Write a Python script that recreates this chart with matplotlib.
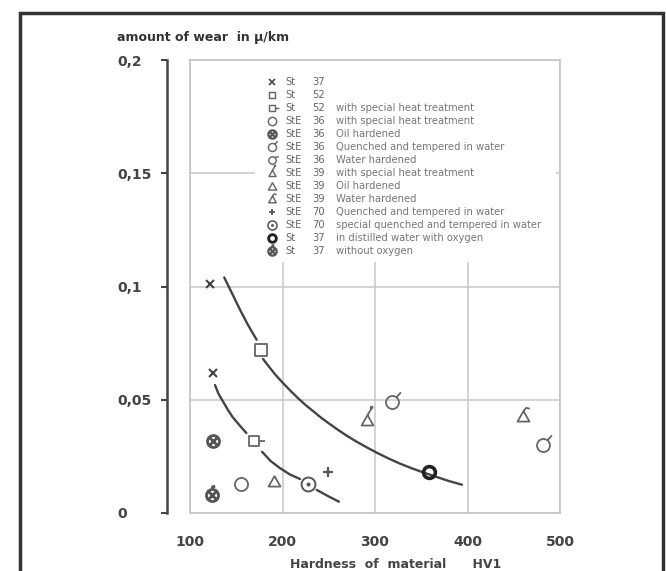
import matplotlib
matplotlib.use("Agg")
import matplotlib.pyplot as plt
from matplotlib.path import Path
from matplotlib.lines import Line2D
from matplotlib.patches import Rectangle

# Data
x_ticks = [100, 200, 300, 400, 500]
y_ticks = [0, 0.05, 0.1, 0.15, 0.2]
y_tick_labels = ["0", "0,05", "0,1", "0,15", "0,2"]

materials = ["St", "St", "St", "StE", "StE", "StE", "StE",
             "StE", "StE", "StE", "StE", "StE", "St", "St"]
grades = ["37", "52", "52", "36", "36", "36", "36",
          "39", "39", "39", "70", "70", "37", "37"]
treatments = ["", "", "with special heat treatment", "with special heat treatment",
              "Oil hardened", "Quenched and tempered in water", "Water hardened",
              "with special heat treatment", "Oil hardened", "Water hardened",
              "Quenched and tempered in water", "special quenched and tempered in water",
              "in distilled water with oxygen", "without oxygen"]

pts_x = [[122, 125], [177], [169], [155], [125], [318, 482], [],
         [291], [191], [460], [249], [228], [358], [124]]
pts_y = [[0.101, 0.062], [0.072], [0.032], [0.013], [0.032], [0.049, 0.030], [],
         [0.041], [0.014], [0.043], [0.018], [0.013], [0.018], [0.008]]

# fitted curves, drawn in pieces (gaps around the markers)
upper_x_a = [137, 146, 154, 163, 172]
upper_y_a = [0.104, 0.0965, 0.0898, 0.0828, 0.0765]
upper_x_b = [179, 185, 192, 200, 208, 216, 224, 233, 242, 251, 260, 270, 280, 291, 303,
             315, 327, 340, 353, 366, 380, 394]
upper_y_b = [0.068, 0.0648, 0.0612, 0.0576, 0.0542, 0.0510, 0.0480, 0.0450, 0.0420,
             0.0393, 0.0367, 0.0340, 0.0315, 0.0290, 0.0264, 0.0240, 0.0218, 0.0197,
             0.0178, 0.0160, 0.0141, 0.0125]
lower_x_a = [127, 131, 136, 141, 146, 154, 161]
lower_y_a = [0.0565, 0.0525, 0.049, 0.0455, 0.0424, 0.0385, 0.0353]
lower_x_b = [178, 187, 197, 208, 219]
lower_y_b = [0.027, 0.023, 0.0199, 0.017, 0.015]
lower_x_c = [237, 249, 261]
lower_y_c = [0.0102, 0.0075, 0.005]

M, L, C = Path.MOVETO, Path.LINETO, Path.CLOSEPOLY


def seg(*pts):
    return Path(list(pts), [M] + [L] * (len(pts) - 1))


def compound(*paths):
    return Path.make_compound_path(*paths)


circ = Path.unit_circle()
small = Path(circ.vertices * 0.15, circ.codes)
sq = Path([(-1, -1), (1, -1), (1, 1), (-1, 1), (-1, -1)], [M, L, L, L, C])
tri = Path([(-1, -0.85), (1, -0.85), (0, 0.9), (-1, -0.85)], [M, L, L, C])
cross_in = compound(seg((-0.7, -0.7), (0.7, 0.7)), seg((-0.7, 0.7), (0.7, -0.7)))

# marker, plot size, legend size, edge width, colour
styles = [
    ("x", 6, 4.5, 1.5, "#444444"),
    (sq, 8, 5, 1.3, "#666666"),
    (compound(sq, seg((1, 0), (2.2, 0))), 15.5, 10, 1.3, "#666666"),
    ("o", 9.4, 6, 1.3, "#666666"),
    (compound(circ, cross_in), 8.6, 6, 2.0, "#555555"),
    (compound(circ, seg((0.6, 0.8), (1.3, 1.55))), 14.5, 9, 1.3, "#666666"),
    (compound(circ, seg((0.75, 0.95), (1.7, 0.95))), 13, 9, 1.3, "#666666"),
    (compound(tri, seg((0, 0.9), (0.7, 2.1)),
              Path(small.vertices + (0.7, 2.2), small.codes)), 20, 12, 1.3, "#666666"),
    (tri, 8.6, 6, 1.3, "#666666"),
    (compound(tri, seg((0, 0.9), (0.45, 1.45), (1.05, 1.3))), 12.5, 8, 1.3, "#666666"),
    ("+", 7, 5, 1.6, "#555555"),
    (compound(circ, small), 10, 6.5, 1.4, "#555555"),
    ("o", 8.5, 5.5, 2.6, "#222222"),
    (compound(circ, cross_in, seg((0, 1.0), (0, 1.45), (0.45, 1.5))), 13, 9, 2.0, "#555555"),
]

fig = plt.figure(figsize=(6.66, 5.71), dpi=100)
ax = fig.add_axes([190 / 666, 1 - 513 / 571, 370 / 666, 453 / 571])

line_kw = dict(color="#444444", lw=1.7, solid_capstyle="round", solid_joinstyle="round",
               zorder=3)
for xs, ys in [(upper_x_a, upper_y_a), (upper_x_b, upper_y_b),
               (lower_x_a, lower_y_a), (lower_x_b, lower_y_b), (lower_x_c, lower_y_c)]:
    ax.plot(xs, ys, **line_kw)

handles = []
for (mk, ms, lms, mew, col), xs, ys in zip(styles, pts_x, pts_y):
    ax.plot(xs, ys, linestyle="none", marker=mk, ms=ms, mfc="none", mec=col, mew=mew, zorder=4)
    handles.append(Line2D([], [], linestyle="none", marker=mk, ms=lms, mfc="none",
                          mec=col, mew=mew * 0.8))

ax.set_xlim(100, 500)
ax.set_ylim(0, 0.2)
ax.set_xticks(x_ticks)
ax.set_yticks(y_ticks)
ax.set_axisbelow(True)
ax.grid(True, color="#cccccc", lw=1.2)
for sp in ax.spines.values():
    sp.set_color("#c4c4c4")
    sp.set_linewidth(1.2)
ax.tick_params(axis="y", length=0, labelleft=False)
ax.tick_params(axis="x", length=0, pad=16, labelsize=10, labelcolor="#444444")
for lab in ax.get_xticklabels():
    lab.set_fontweight("bold")

# white area behind the key
ax.add_patch(Rectangle((0.176, 0.554), 0.814, 0.443, transform=ax.transAxes,
                       facecolor="white", edgecolor="none", zorder=1))

# dark value axis, set apart from the box
sec = ax.secondary_yaxis(-23 / 370)
sec.set_yticks(y_ticks, labels=y_tick_labels)
sec.spines["left"].set_color("#444444")
sec.spines["left"].set_linewidth(1.8)
sec.tick_params(direction="out", length=4, width=1.5, color="#444444", pad=32,
                labelsize=10, labelcolor="#444444")
for lab in sec.get_yticklabels():
    lab.set_ha("left")
    lab.set_fontweight("bold")

leg_kw = dict(loc="upper left", frameon=False, fontsize=7.2, labelspacing=0.30,
              borderpad=0, borderaxespad=0)
top = 0.962
leg_a = ax.legend(handles, materials, bbox_to_anchor=(0.208, top), handlelength=1.0,
                  handletextpad=0.83, labelcolor="#666666", **leg_kw)
ax.add_artist(leg_a)
blank = [Line2D([], [], linestyle="none") for _ in grades]
leg_b = ax.legend(blank, grades, bbox_to_anchor=(0.330, top), handlelength=0,
                  handletextpad=0, labelcolor="#666666", **leg_kw)
ax.add_artist(leg_b)
ax.legend(blank, [t if t else " " for t in treatments], bbox_to_anchor=(0.395, top),
          handlelength=0, handletextpad=0, labelcolor="#777777", **leg_kw)

fig.text(117 / 666, 1 - 37 / 571, "amount of wear  in \u03bc/km", fontsize=9,
         fontweight="bold", color="#333333", va="center")
fig.text(396 / 666, 1 - 565 / 571, "Hardness  of  material      HV1", fontsize=9,
         fontweight="bold", color="#444444", ha="center", va="center")

# outer frame of the scanned figure
fig.add_artist(Rectangle((20 / 666, -0.02), 643 / 666, 1 - 13 / 571 + 0.02,
                         transform=fig.transFigure, fill=False, edgecolor="#333333", lw=2.5))

fig.savefig("out.png", dpi=100)
